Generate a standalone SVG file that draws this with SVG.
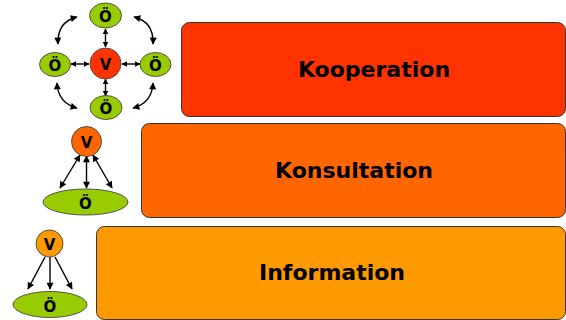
<svg xmlns="http://www.w3.org/2000/svg" width="566" height="320" viewBox="0 0 566 320">
<style>
.box{stroke:#333;stroke-width:1}
.lbl{font-family:"DejaVu Sans",Verdana,sans-serif;font-weight:bold;font-size:22px;fill:#000;text-anchor:middle}
.nt{font-family:"DejaVu Sans",Verdana,sans-serif;font-weight:bold;font-size:15px;fill:#000;text-anchor:middle;dominant-baseline:central}
.oe{fill:#99cc00;stroke:#444;stroke-width:0.9}
.ve{stroke:#444;stroke-width:0.9}
.c{fill:none;stroke:#000;stroke-width:1.4}
</style>
<defs>
<marker id="ah" viewBox="0 0 10 10" refX="9" refY="5" markerWidth="6" markerHeight="6" orient="auto-start-reverse" markerUnits="userSpaceOnUse">
<path d="M0,0 L10,5 L0,10 z" fill="#000"/>
</marker>
<marker id="ah2" viewBox="0 0 10 10" refX="9" refY="5" markerWidth="8" markerHeight="7" orient="auto-start-reverse" markerUnits="userSpaceOnUse">
<path d="M0,0 L10,5 L0,10 z" fill="#000"/>
</marker>
</defs>
<g id="box-kooperation">
<rect class="box" x="181.5" y="22.5" width="384" height="94" rx="8" fill="#ff3300"/>
<text class="lbl" x="374" y="77">Kooperation</text>
</g>
<g id="box-konsultation">
<rect class="box" x="141.5" y="123.5" width="424" height="94" rx="8" fill="#ff6600"/>
<text class="lbl" x="354" y="178">Konsultation</text>
</g>
<g id="box-information">
<rect class="box" x="96.5" y="226.5" width="469" height="93" rx="8" fill="#ff9900"/>
<text class="lbl" x="332" y="280">Information</text>
</g>
<g id="connectors">
<line class="c" x1="105.5" y1="29" x2="105.5" y2="47" marker-start="url(#ah)" marker-end="url(#ah)"/>
<line class="c" x1="105.5" y1="79" x2="105.5" y2="96" marker-start="url(#ah)" marker-end="url(#ah)"/>
<line class="c" x1="71" y1="64" x2="89" y2="64" marker-start="url(#ah)" marker-end="url(#ah)"/>
<line class="c" x1="122" y1="64" x2="140" y2="64" marker-start="url(#ah)" marker-end="url(#ah)"/>
<path class="c" d="M77,17 Q57,22 58,44" marker-start="url(#ah2)" marker-end="url(#ah2)"/>
<path class="c" d="M134,17 Q154,22 153,44" marker-start="url(#ah2)" marker-end="url(#ah2)"/>
<path class="c" d="M57,83 Q58,103 77,108" marker-start="url(#ah2)" marker-end="url(#ah2)"/>
<path class="c" d="M153,83 Q152,103 133,108" marker-start="url(#ah2)" marker-end="url(#ah2)"/>
<line class="c" x1="80" y1="155" x2="60" y2="188" marker-start="url(#ah2)" marker-end="url(#ah2)"/>
<line class="c" x1="86.5" y1="156" x2="86.5" y2="188" marker-start="url(#ah2)" marker-end="url(#ah2)"/>
<line class="c" x1="93" y1="155" x2="112" y2="188" marker-start="url(#ah2)" marker-end="url(#ah2)"/>
<line class="c" x1="45" y1="257" x2="28" y2="289" marker-end="url(#ah2)"/>
<line class="c" x1="50" y1="257" x2="50" y2="289" marker-end="url(#ah2)"/>
<line class="c" x1="55" y1="257" x2="72" y2="289" marker-end="url(#ah2)"/>
</g>
<g id="k-v">
<circle class="ve" cx="105.5" cy="63.5" r="15.5" fill="#ff3300"/>
<text class="nt" x="105.5" y="64.5">V</text>
</g>
<g id="k-o-top">
<ellipse class="oe" cx="105.5" cy="15.5" rx="16" ry="12.5"/>
<text class="nt" x="105.5" y="17">Ö</text>
</g>
<g id="k-o-left">
<ellipse class="oe" cx="55" cy="64.5" rx="15.5" ry="12"/>
<text class="nt" x="55" y="66">Ö</text>
</g>
<g id="k-o-right">
<ellipse class="oe" cx="155.5" cy="64.5" rx="15.5" ry="12"/>
<text class="nt" x="155.5" y="66">Ö</text>
</g>
<g id="k-o-bottom">
<ellipse class="oe" cx="106" cy="107.5" rx="16" ry="12"/>
<text class="nt" x="106" y="109">Ö</text>
</g>
<g id="c-v">
<circle class="ve" cx="86.5" cy="141.5" r="15" fill="#ff6600"/>
<text class="nt" x="86.5" y="142.5">V</text>
</g>
<g id="c-o">
<ellipse class="oe" cx="85.5" cy="202" rx="42.5" ry="13"/>
<text class="nt" x="85.5" y="204">Ö</text>
</g>
<g id="i-v">
<circle class="ve" cx="49.5" cy="243.5" r="13.5" fill="#ff9900"/>
<text class="nt" x="49.5" y="244.5">V</text>
</g>
<g id="i-o">
<ellipse class="oe" cx="50" cy="304.5" rx="37" ry="13"/>
<text class="nt" x="50" y="306.5">Ö</text>
</g>
</svg>
